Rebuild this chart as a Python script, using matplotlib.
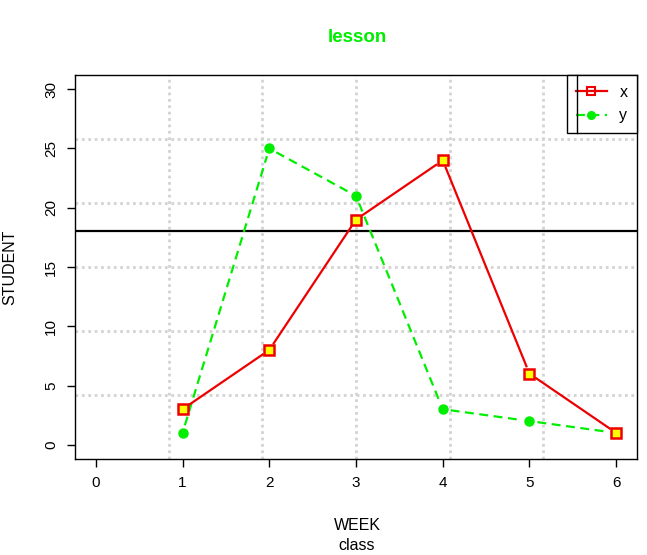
import numpy as np
import matplotlib
matplotlib.use("Agg")
import matplotlib.pyplot as plt
from matplotlib.lines import Line2D

plt.rcParams['font.family'] = ['Liberation Sans', 'DejaVu Sans']

week = [1, 2, 3, 4, 5, 6]
x_vals = [3, 8, 19, 24, 6, 1]
y_vals = [1, 25, 21, 3, 2, 1]
hline_value = 18
xticks = [0, 1, 2, 3, 4, 5, 6]
yticks = [0, 5, 10, 15, 20, 25, 30]

fig = plt.figure(figsize=(6.47, 5.55), dpi=100)
ax = fig.add_axes([75 / 647, 96 / 555, 562 / 647, 384 / 555])
ax.set_xlim(-0.24, 6.24)
ax.set_ylim(-1.2, 31.2)

# grid like R grid(nx=6, ny=6): evenly spaced over plot region
for gx in np.linspace(-0.24, 6.24, 7)[1:-1]:
    ax.axvline(gx, color='#d3d3d3', lw=2, ls=(0, (1, 1.3)), zorder=1)
for gy in np.linspace(-1.2, 31.2, 7)[1:-1]:
    ax.axhline(gy, color='#d3d3d3', lw=2, ls=(0, (1, 1.3)), zorder=1)

ax.axhline(hline_value, color='black', lw=1.6, zorder=2)


def draw_b(ax, xs, ys, color, ls, gap=8):
    # R type="b": segments stop short of the points
    fig.canvas.draw()
    pts = ax.transData.transform(np.column_stack([xs, ys]))
    inv = ax.transData.inverted()
    for p0, p1 in zip(pts[:-1], pts[1:]):
        d = p1 - p0
        L = np.hypot(*d)
        if L <= 2 * gap:
            continue
        u = d / L
        a = inv.transform(p0 + u * gap)
        b = inv.transform(p1 - u * gap)
        ax.plot([a[0], b[0]], [a[1], b[1]], color=color, ls=ls, lw=1.6, zorder=3)


draw_b(ax, week, y_vals, '#00ee00', (0, (4, 2.5)))
draw_b(ax, week, x_vals, '#ee0000', '-')
ax.plot(week, y_vals, ls='none', marker='o', ms=6.5, color='#00ee00', zorder=4)
ax.plot(week, x_vals, ls='none', marker='s', ms=7, mfc='#ffff00', mec='#ee0000', mew=1.8, zorder=4)

ax.set_xticks(xticks)
ax.set_yticks(yticks)
ax.tick_params(length=6, width=1, labelsize=11, colors='black', pad=6)
for lab in ax.get_yticklabels():
    lab.set_rotation(90)
    lab.set_va('center')
for s in ax.spines.values():
    s.set_linewidth(1)

fig.text(357 / 647, 1 - 37 / 555, 'lesson', color='#00ee00', fontsize=13.5, fontweight='bold',
         ha='center', va='center')
fig.text(357 / 647, 1 - 525 / 555, 'WEEK', fontsize=11.5, ha='center', va='center')
fig.text(357 / 647, 1 - 545 / 555, 'class', fontsize=11.5, ha='center', va='center')
fig.text(10 / 647, 1 - 267 / 555, 'STUDENT', fontsize=11.5, ha='center', va='center', rotation=90)

handles = [Line2D([], [], color='#ee0000', lw=1.6, marker='s', ms=6, mfc='none', mec='#ee0000', mew=1.5),
           Line2D([], [], color='#00ee00', lw=1.6, ls=(0, (4, 2.5)), marker='o', ms=5.5)]
leg = ax.legend(handles, ['x', 'y'], loc='upper right', borderaxespad=0, fancybox=False,
                edgecolor='black', framealpha=1, fontsize=11.5, handlelength=1.9,
                borderpad=0.6, labelspacing=0.55, handletextpad=0.8)
leg.get_frame().set_linewidth(1)
leg.set_zorder(5)
fig.canvas.draw()
bb = leg.get_window_extent().transformed(ax.transAxes.inverted())
ax.plot([bb.x0 + 10 / 562, bb.x0 + 10 / 562], [bb.y0, 1], color='black', lw=1,
        transform=ax.transAxes, zorder=6, clip_on=False)

fig.savefig('out.png', dpi=100)
